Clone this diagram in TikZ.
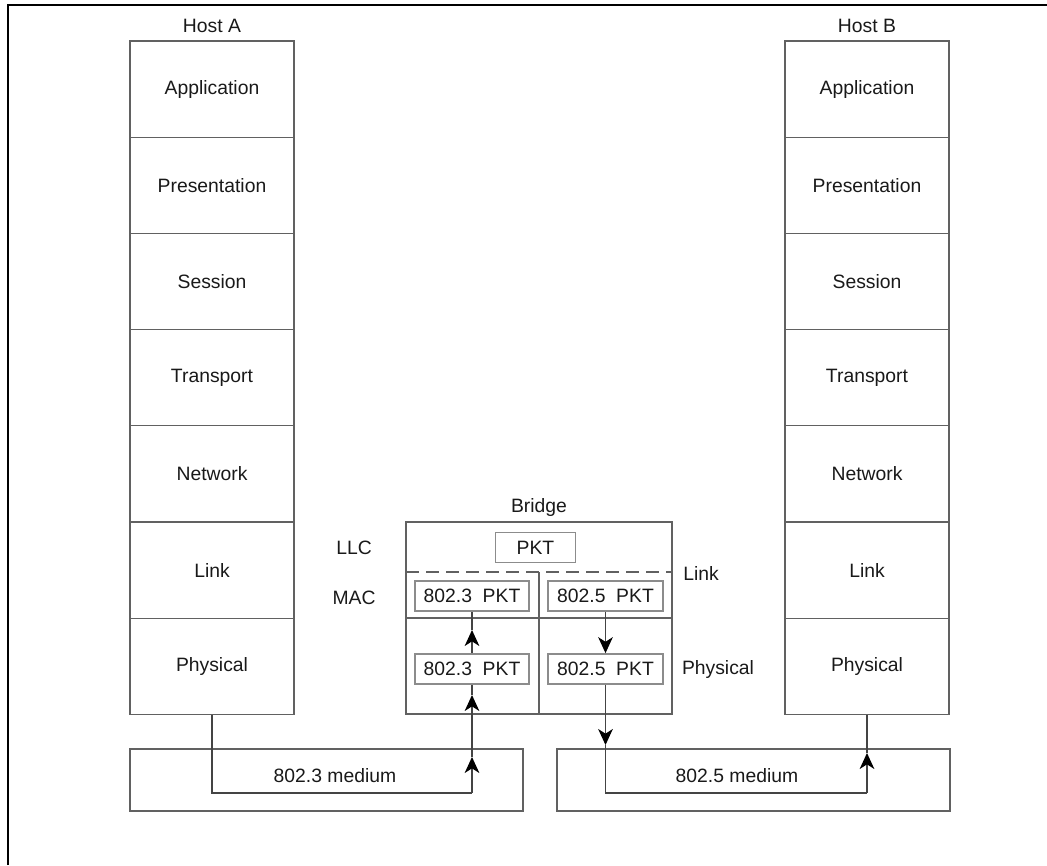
\documentclass[tikz,border=0pt]{standalone}
\usepackage{fontspec}
\setmainfont{Liberation Sans}
\usetikzlibrary{arrows.meta}

\definecolor{linegray}{gray}{0.38}
\definecolor{boxgray}{gray}{0.55}

\tikzset{
    txt/.style={font=\fontsize{14.5}{17}\selectfont, text=black!90},
    layer/.style={txt, draw=linegray, line width=0.9pt, minimum width=123pt, minimum height=72.2pt, inner sep=0pt},
    pktbox/.style={txt, draw=boxgray, line width=1.3pt, minimum width=86pt, minimum height=22.5pt, inner sep=0pt},
    frame/.style={draw=linegray, line width=0.9pt, inner sep=0pt},
    wire/.style={draw=linegray!70!black, line width=0.9pt},
    tip/.style={-{Stealth[length=12pt, width=11pt, inset=3.5pt, color=black]}}
}

\begin{document}
\begin{tikzpicture}[x=0.75pt, y=-0.75pt]
    \useasboundingbox (0,0) rectangle (1047,865);

    % page frame (only top and left edges show)
    \draw[black, line width=1.6pt] (8,865) -- (8,5) -- (1047,5);

    % the two host stacks
    \node[txt] (labelA) at (212,26) {Host A};
    \node[txt] (labelB) at (867,26) {Host B};
    \foreach \name [count=\i] in {Application,Presentation,Session,Transport,Network,Link,Physical} {
        \node[layer] (hostA-\i) at (212,{41+96.2*(\i-0.5)}) {\name};
        \node[layer] (hostB-\i) at (867,{41+96.2*(\i-0.5)}) {\name};
    }

    % bridge
    \node[txt] (labelBr) at (539,507) {Bridge};
    \node[frame, minimum width=199.5pt, minimum height=144pt] (bridge) at (539,618) {};
    \draw[linegray, line width=0.9pt, dash pattern=on 10pt off 5pt] (406,572) -- (672,572);
    \draw[linegray, line width=0.9pt] (539,572) -- (539,714);
    \draw[linegray, line width=0.9pt] (406,618) -- (672,618);

    \node[pktbox, minimum width=60pt] (pkt) at (535.5,547.5) {PKT};
    \node[pktbox] (macA) at (472,596) {802.3\ \ PKT};
    \node[pktbox] (macB) at (605.5,596) {802.5\ \ PKT};
    \node[pktbox] (phyA) at (472,669) {802.3\ \ PKT};
    \node[pktbox] (phyB) at (605.5,669) {802.5\ \ PKT};

    \node[txt] (llc) at (354,548) {LLC};
    \node[txt] (mac) at (354,598) {MAC};
    \node[txt] (link) at (701,573) {Link};
    \node[txt] (phys) at (718,669) {Physical};

    % media
    \node[frame, minimum width=294.75pt, minimum height=46.5pt] (mediumA) at (326.5,780) {};
    \node[frame, minimum width=294.75pt, minimum height=46.5pt] (mediumB) at (753.5,780) {};
    \node[txt] (medA) at (335,776) {802.3 medium};
    \node[txt] (medB) at (737,776) {802.5 medium};

    % path of the packet
    \coordinate (turnA) at (472,793);
    \coordinate (upA1) at (472,757);
    \coordinate (upA2) at (472,695);
    \coordinate (upA3) at (472,630);
    \draw[wire] (hostA-7.south) |- (turnA);
    \draw[wire, tip] (turnA) -- (upA1);
    \draw[wire, tip] (upA1) -- (upA2);
    \draw[wire] (upA2) -- (phyA.south);
    \draw[wire, tip] (phyA.north) -- (upA3);
    \draw[wire] (upA3) -- (macA.south);

    \coordinate (downB1) at (605.5,745);
    \coordinate (turnB) at (605.5,793);
    \coordinate (cornerB) at (867,793);
    \coordinate (upB1) at (867,753);
    \draw[wire, tip] (macB.south) -- (phyB.north);
    \draw[wire, tip] (phyB.south) -- (downB1);
    \draw[wire] (downB1) -- (turnB) -- (cornerB);
    \draw[wire, tip] (cornerB) -- (upB1);
    \draw[wire] (upB1) -- (hostB-7.south);
\end{tikzpicture}
\end{document}
